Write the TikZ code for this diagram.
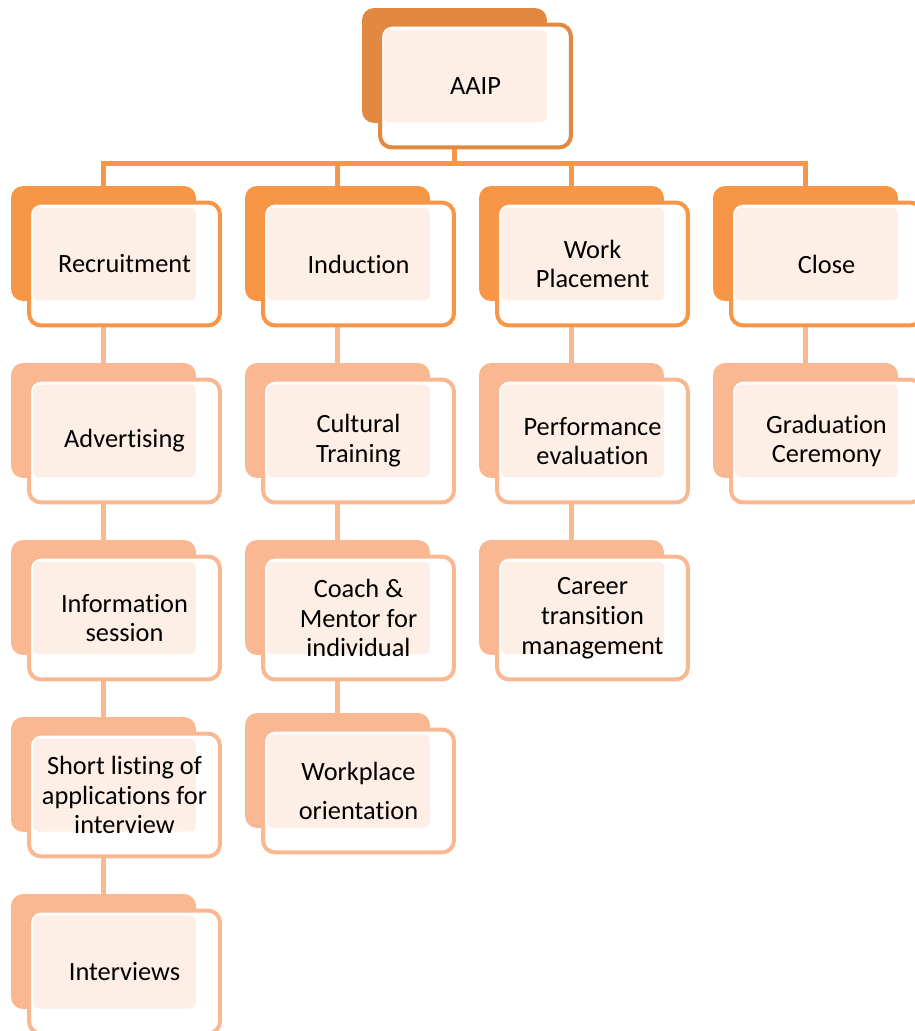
\documentclass[tikz,border=0pt]{standalone}
\usepackage{fontspec}
\setmainfont{Carlito}[Ligatures=NoCommon]
\usetikzlibrary{calc,backgrounds}
\definecolor{lvl0}{RGB}{226,137,65}
\definecolor{lvl1}{RGB}{247,150,70}
\definecolor{lvl2}{RGB}{250,184,146}
\definecolor{dotfill}{RGB}{253,239,230}

\begin{document}
\begin{tikzpicture}
    [x=0.02cm,y=-0.02cm,
     pg/.style={outer sep=0,inner sep=0,rounded corners=0.24cm},
     back/.style={pg,minimum width=3.7cm,minimum height=2.3cm},
     front/.style={pg,fill=white,line width=0.08cm,
                   minimum width=3.82cm,minimum height=2.46cm},
     dots/.style={pg,rounded corners=0.12cm,fill=dotfill,
                  minimum width=3.26cm,minimum height=1.86cm},
     txt/.style={align=center,font=\fontsize{15}{17}\selectfont},
     lnk/.style={line width=0.1cm,draw=lvl2},
     lnkup/.style={lnk,draw=lvl1}]
    \def\obox#1#2#3#4{%
      \node[back,fill=#3] (#1) at (#2) {};
      \node[front,draw=#3] (#1-f) at ($(#1)+(21,20.5)$) {};
      \node[dots] (#1-d) at ($(#1)+(11,10.5)$) {};
      \node[txt] (#1-t) at (#1-f) {#4};}

    \useasboundingbox (0,0) rectangle (914,1031);

    \obox{aaip}{454.5,65.5}{lvl0}{AAIP}

    \obox{recr}{103.5,243.5}{lvl1}{Recruitment}
    \obox{ind}{337.5,243.5}{lvl1}{Induction}
    \obox{work}{571.5,243.5}{lvl1}{Work\\Placement}
    \obox{close}{805.5,243.5}{lvl1}{Close}

    \obox{adv}{103.5,420.5}{lvl2}{Advertising}
    \obox{info}{103.5,597.5}{lvl2}{Information\\session}
    \obox{short}{103.5,774.5}{lvl2}{Short listing of\\applications for\\interview}
    \obox{intv}{103.5,951.5}{lvl2}{Interviews}

    \obox{cult}{337.5,420.5}{lvl2}{Cultural\\Training}
    \obox{coach}{337.5,597.5}{lvl2}{Coach \&\\Mentor for\\individual}
    \obox{wpo}{337.5,770.5}{lvl2}{Workplace\\[0.2cm]orientation}

    \obox{perf}{571.5,420.5}{lvl2}{Performance\\evaluation}
    \obox{career}{571.5,597.5}{lvl2}{Career\\transition\\management}

    \obox{grad}{805.5,420.5}{lvl2}{Graduation\\Ceremony}

    \begin{pgfonlayer}{background}
      \coordinate (bar) at (0,163);
      \draw[lnkup] (aaip) -- (aaip |- bar);
      \draw[lnkup] (recr) |- (close |- bar) -- (close);
      \draw[lnkup] (ind |- bar) -- (ind);
      \draw[lnkup] (work |- bar) -- (work);
      \draw[lnk] (recr) -- (adv) -- (info) -- (short) -- (intv);
      \draw[lnk] (ind) -- (cult) -- (coach) -- (wpo);
      \draw[lnk] (work) -- (perf) -- (career);
      \draw[lnk] (close) -- (grad);
    \end{pgfonlayer}
\end{tikzpicture}
\end{document}
